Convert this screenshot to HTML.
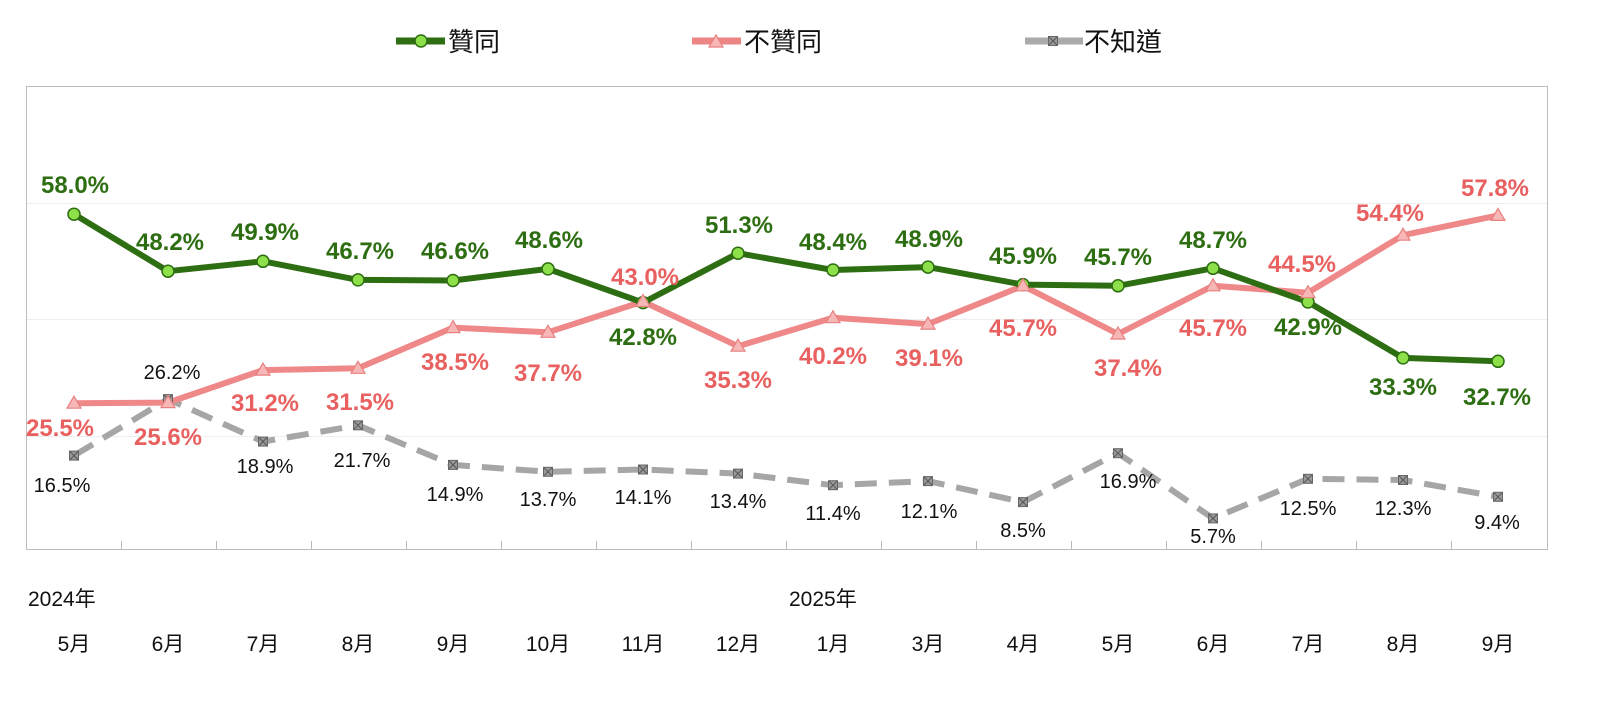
<!DOCTYPE html>
<html><head><meta charset="utf-8"><style>
html,body{margin:0;padding:0;background:#fff;}
svg{display:block;font-family:"Liberation Sans","Noto Sans CJK TC",sans-serif;}
.g{fill:#2e6e12;font-weight:bold;font-size:24px;text-anchor:middle;}
.r{fill:#e8605f;font-weight:bold;font-size:24px;text-anchor:middle;}
.k{fill:#111;font-size:20px;text-anchor:middle;}
.ax{fill:#111;font-size:21px;text-anchor:middle;}
.lg{fill:#111;font-size:26px;}
</style></head><body>
<svg width="1600" height="722" viewBox="0 0 1600 722">
<defs>
<g id="cm"><circle r="6" fill="#8de04a" stroke="#2e6e12" stroke-width="1.5"/></g>
<g id="tm"><path d="M0,-7 L7,5 L-7,5 Z" fill="#f7b7b7" stroke="#e88080" stroke-width="1.2"/></g>
<g id="sm"><rect x="-4.5" y="-4.5" width="9" height="9" fill="#999" stroke="#666" stroke-width="1"/><path d="M-4,-4 L4,4 M4,-4 L-4,4" stroke="#555" stroke-width="1"/></g>
</defs>
<line x1="396" y1="41" x2="445" y2="41" stroke="#2e6e12" stroke-width="7"/>
<use href="#cm" x="421" y="41"/>
<text class="lg" x="448" y="51">贊同</text>
<line x1="692" y1="41" x2="741" y2="41" stroke="#ee8585" stroke-width="7"/>
<use href="#tm" x="716" y="42"/>
<text class="lg" x="744" y="51">不贊同</text>
<line x1="1025" y1="41" x2="1083" y2="41" stroke="#aaa" stroke-width="7"/>
<use href="#sm" x="1053" y="41"/>
<text class="lg" x="1084" y="51">不知道</text>
<rect x="26.5" y="86.5" width="1521" height="463" fill="none" stroke="#bdbdbd" stroke-width="1"/>
<line x1="27" y1="203.5" x2="1547" y2="203.5" stroke="#eee" stroke-width="1"/>
<line x1="27" y1="319.5" x2="1547" y2="319.5" stroke="#eee" stroke-width="1"/>
<line x1="27" y1="436.5" x2="1547" y2="436.5" stroke="#eee" stroke-width="1"/>
<g stroke="#bbb" stroke-width="1">
<line x1="121.5" y1="541" x2="121.5" y2="549"/><line x1="216.5" y1="541" x2="216.5" y2="549"/><line x1="311.5" y1="541" x2="311.5" y2="549"/><line x1="406.5" y1="541" x2="406.5" y2="549"/><line x1="501.5" y1="541" x2="501.5" y2="549"/><line x1="596.5" y1="541" x2="596.5" y2="549"/><line x1="691.5" y1="541" x2="691.5" y2="549"/><line x1="786.5" y1="541" x2="786.5" y2="549"/><line x1="881.5" y1="541" x2="881.5" y2="549"/><line x1="976.5" y1="541" x2="976.5" y2="549"/><line x1="1071.5" y1="541" x2="1071.5" y2="549"/><line x1="1166.5" y1="541" x2="1166.5" y2="549"/><line x1="1261.5" y1="541" x2="1261.5" y2="549"/><line x1="1356.5" y1="541" x2="1356.5" y2="549"/><line x1="1451.5" y1="541" x2="1451.5" y2="549"/>
</g>
<polyline fill="none" stroke="#a6a6a6" stroke-width="6" stroke-dasharray="22,12" stroke-linejoin="round"
points="74,455.6 168,399.1 263,441.6 358,425.3 453,464.9 548,471.8 643,469.5 738,473.6 833,485.2 928,481.1 1023,502.1 1118,453.2 1213,518.4 1308,478.8 1403,480 1498,496.8"/>
<polyline fill="none" stroke="#ef8888" stroke-width="6" stroke-linejoin="round"
points="74,403.2 168,402.6 263,370.1 358,368.3 453,327.6 548,332.3 643,301.5 738,346.2 833,317.7 928,324.1 1023,285.8 1118,334 1213,285.8 1308,292.7 1403,235.2 1498,215.4"/>
<polyline fill="none" stroke="#2e6e12" stroke-width="6" stroke-linejoin="round"
points="74,214.2 168,271.2 263,261.3 358,279.9 453,280.5 548,268.9 643,302.6 738,253.2 833,270 928,267.1 1023,284.6 1118,285.8 1213,268.3 1308,302 1403,357.9 1498,361.3"/>
<g>
<use href="#sm" x="74" y="455.6"/><use href="#sm" x="168" y="399.1"/><use href="#sm" x="263" y="441.6"/><use href="#sm" x="358" y="425.3"/><use href="#sm" x="453" y="464.9"/><use href="#sm" x="548" y="471.8"/><use href="#sm" x="643" y="469.5"/><use href="#sm" x="738" y="473.6"/><use href="#sm" x="833" y="485.2"/><use href="#sm" x="928" y="481.1"/><use href="#sm" x="1023" y="502.1"/><use href="#sm" x="1118" y="453.2"/><use href="#sm" x="1213" y="518.4"/><use href="#sm" x="1308" y="478.8"/><use href="#sm" x="1403" y="480"/><use href="#sm" x="1498" y="496.8"/>
</g>
<g>
<use href="#cm" x="74" y="214.2"/><use href="#cm" x="168" y="271.2"/><use href="#cm" x="263" y="261.3"/><use href="#cm" x="358" y="279.9"/><use href="#cm" x="453" y="280.5"/><use href="#cm" x="548" y="268.9"/><use href="#cm" x="643" y="302.6"/><use href="#cm" x="738" y="253.2"/><use href="#cm" x="833" y="270"/><use href="#cm" x="928" y="267.1"/><use href="#cm" x="1023" y="284.6"/><use href="#cm" x="1118" y="285.8"/><use href="#cm" x="1213" y="268.3"/><use href="#cm" x="1308" y="302"/><use href="#cm" x="1403" y="357.9"/><use href="#cm" x="1498" y="361.3"/>
</g>
<g>
<use href="#tm" x="74" y="403.2"/><use href="#tm" x="168" y="402.6"/><use href="#tm" x="263" y="370.1"/><use href="#tm" x="358" y="368.3"/><use href="#tm" x="453" y="327.6"/><use href="#tm" x="548" y="332.3"/><use href="#tm" x="643" y="301.5"/><use href="#tm" x="738" y="346.2"/><use href="#tm" x="833" y="317.7"/><use href="#tm" x="928" y="324.1"/><use href="#tm" x="1023" y="285.8"/><use href="#tm" x="1118" y="334"/><use href="#tm" x="1213" y="285.8"/><use href="#tm" x="1308" y="292.7"/><use href="#tm" x="1403" y="235.2"/><use href="#tm" x="1498" y="215.4"/>
</g>
<text class="g" x="75" y="193">58.0%</text><text class="g" x="170" y="250">48.2%</text><text class="g" x="265" y="240">49.9%</text><text class="g" x="360" y="259">46.7%</text><text class="g" x="455" y="259">46.6%</text><text class="g" x="549" y="248">48.6%</text><text class="g" x="643" y="345">42.8%</text><text class="g" x="739" y="233">51.3%</text><text class="g" x="833" y="250">48.4%</text><text class="g" x="929" y="247">48.9%</text><text class="g" x="1023" y="264">45.9%</text><text class="g" x="1118" y="265">45.7%</text><text class="g" x="1213" y="248">48.7%</text><text class="g" x="1308" y="335">42.9%</text><text class="g" x="1403" y="395">33.3%</text><text class="g" x="1497" y="405">32.7%</text>
<text class="r" x="60" y="436">25.5%</text><text class="r" x="168" y="445">25.6%</text><text class="r" x="265" y="411">31.2%</text><text class="r" x="360" y="410">31.5%</text><text class="r" x="455" y="370">38.5%</text><text class="r" x="548" y="381">37.7%</text><text class="r" x="645" y="285">43.0%</text><text class="r" x="738" y="388">35.3%</text><text class="r" x="833" y="364">40.2%</text><text class="r" x="929" y="366">39.1%</text><text class="r" x="1023" y="336">45.7%</text><text class="r" x="1128" y="376">37.4%</text><text class="r" x="1213" y="336">45.7%</text><text class="r" x="1302" y="272">44.5%</text><text class="r" x="1390" y="221">54.4%</text><text class="r" x="1495" y="196">57.8%</text>
<text class="k" x="62" y="492">16.5%</text><text class="k" x="172" y="379">26.2%</text><text class="k" x="265" y="473">18.9%</text><text class="k" x="362" y="467">21.7%</text><text class="k" x="455" y="501">14.9%</text><text class="k" x="548" y="506">13.7%</text><text class="k" x="643" y="504">14.1%</text><text class="k" x="738" y="508">13.4%</text><text class="k" x="833" y="520">11.4%</text><text class="k" x="929" y="518">12.1%</text><text class="k" x="1023" y="537">8.5%</text><text class="k" x="1128" y="488">16.9%</text><text class="k" x="1213" y="543">5.7%</text><text class="k" x="1308" y="515">12.5%</text><text class="k" x="1403" y="515">12.3%</text><text class="k" x="1497" y="529">9.4%</text>
<text class="ax" x="28" y="606" style="text-anchor:start">2024年</text>
<text class="ax" x="789" y="606" style="text-anchor:start">2025年</text>
<text class="ax" x="74" y="651">5月</text><text class="ax" x="168" y="651">6月</text><text class="ax" x="263" y="651">7月</text><text class="ax" x="358" y="651">8月</text><text class="ax" x="453" y="651">9月</text><text class="ax" x="548" y="651">10月</text><text class="ax" x="643" y="651">11月</text><text class="ax" x="738" y="651">12月</text><text class="ax" x="833" y="651">1月</text><text class="ax" x="928" y="651">3月</text><text class="ax" x="1023" y="651">4月</text><text class="ax" x="1118" y="651">5月</text><text class="ax" x="1213" y="651">6月</text><text class="ax" x="1308" y="651">7月</text><text class="ax" x="1403" y="651">8月</text><text class="ax" x="1498" y="651">9月</text>
</svg>
</body></html>
